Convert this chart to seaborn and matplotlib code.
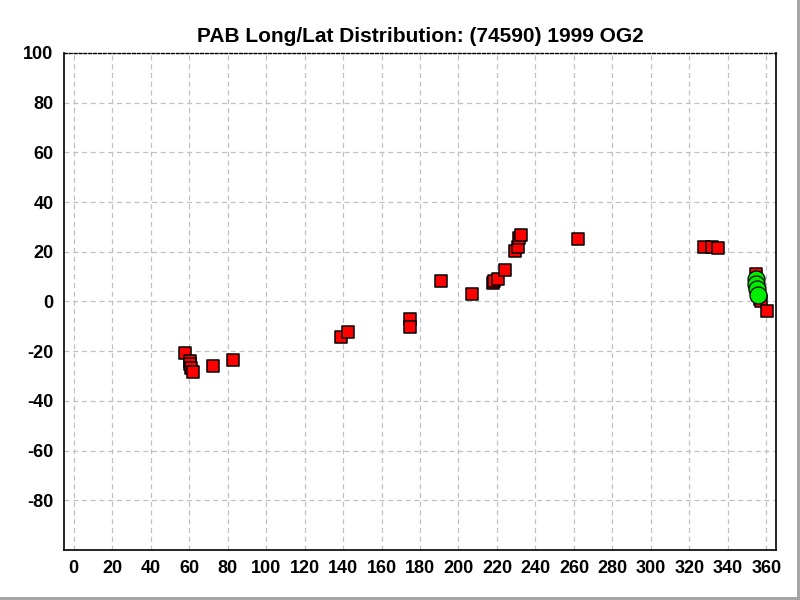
import numpy as np
import pandas as pd
import matplotlib
matplotlib.use("Agg")
import matplotlib.pyplot as plt
from matplotlib.lines import Line2D
import seaborn as sns

obs_long = [58.0, 60.5, 60.7, 61.0, 62.0, 72.5, 83.0,
            138.9, 142.6, 175.0, 175.0, 191.1, 207.2,
            217.7, 218.4, 220.3, 224.4, 229.6, 230.7, 231.7, 232.4,
            262.0, 327.8, 331.6, 334.9,
            354.5, 355.0, 355.5, 356.5, 357.1, 360.4]
obs_lat = [-20.8, -23.9, -25.2, -26.6, -28.2, -25.8, -23.4,
           -14.4, -12.4, -6.9, -10.1, 8.3, 3.1,
           7.5, 8.3, 9.1, 12.7, 20.4, 22.0, 25.5, 26.7,
           25.1, 21.9, 21.9, 21.5,
           11.2, 8.0, 4.0, 1.0, 0.0, -4.0]

# highlighted (green) positions
cur_long = [354.5, 354.6, 355.0, 355.8]
cur_lat = [9.1, 7.1, 5.0, 2.6]

obs = pd.DataFrame({"long": obs_long, "lat": obs_lat})
cur = pd.DataFrame({"long": cur_long, "lat": cur_lat})

sns.set_style("white")
plt.rcParams["font.family"] = ["Liberation Sans", "DejaVu Sans"]
plt.rcParams["axes.unicode_minus"] = False

fig = plt.figure(figsize=(8, 6), dpi=100)
ax = fig.add_axes([0.08, 0.0833, 0.89, 0.8284])

sns.scatterplot(data=obs, x="long", y="lat", marker="s", s=68, color="#ff0000",
                edgecolor="black", linewidth=1.1, ax=ax, zorder=3)
sns.scatterplot(data=cur, x="long", y="lat", marker="o", s=150, color="#00ee00",
                edgecolor="black", linewidth=0.9, ax=ax, zorder=4)

ax.set_xlim(-5, 365)
ax.set_ylim(-100, 100)
ax.set_xticks(np.arange(0, 361, 20))
ax.set_yticks(np.arange(-80, 101, 20))
ax.grid(True, color="#c0c0c0", linestyle=(0, (4, 3)), linewidth=0.9)
ax.set_axisbelow(True)
ax.tick_params(axis="both", direction="out", length=4, width=1, labelsize=13,
               colors="black", labelcolor="black")
for lab in ax.get_xticklabels() + ax.get_yticklabels():
    lab.set_fontweight("bold")
ax.set_xlabel("")
ax.set_ylabel("")
for side in ["left", "bottom", "right"]:
    ax.spines[side].set_color("black")
    ax.spines[side].set_linewidth(1.2)
ax.spines["top"].set_color("black")
ax.spines["top"].set_linestyle((0, (2, 1.5)))
ax.spines["top"].set_linewidth(1.0)

ax.set_title("PAB Long/Lat Distribution: (74590) 1999 OG2", fontsize=15,
             fontweight="bold", pad=8, color="black")

# window frame on right and bottom
fig.add_artist(Line2D([0.997, 0.997], [0, 1], color="#a0a0a0", linewidth=2, transform=fig.transFigure))
fig.add_artist(Line2D([0, 1], [0.003, 0.003], color="#a0a0a0", linewidth=2, transform=fig.transFigure))

fig.savefig("out.png", dpi=100)
